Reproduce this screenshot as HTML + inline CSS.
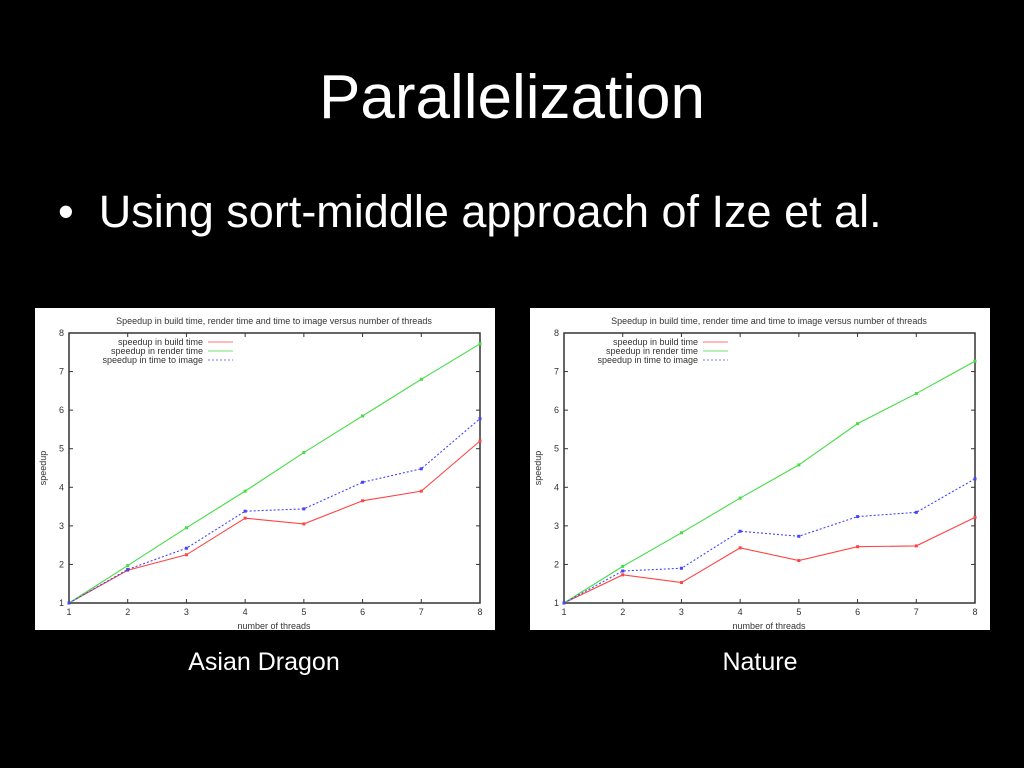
<!DOCTYPE html>
<html><head><meta charset="utf-8"><style>
body{margin:0;width:1024px;height:768px;background:#000;overflow:hidden;font-family:"Liberation Sans",sans-serif;color:#fff;position:relative}
#title{position:absolute;top:62px;left:0;width:1024px;text-align:center;font-size:62px}
#bullet{position:absolute;top:186px;left:58px;font-size:45px}
.chart{position:absolute;top:308px;width:460px;height:322px;background:#fff}
.cap{position:absolute;top:648px;font-size:25px;text-align:center;width:300px}
</style></head><body>
<div id="title">Parallelization</div>
<div id="bullet">•&nbsp; Using sort-middle approach of Ize et al.</div>
<svg class="chart" id="c1" style="left:35px"></svg>
<svg class="chart" id="c2" style="left:530px"></svg>
<div class="cap" style="left:114px">Asian Dragon</div>
<div class="cap" style="left:610px">Nature</div>
<script>
const threads=[1,2,3,4,5,6,7,8];
const yTicks=[1,2,3,4,5,6,7,8];
const dragonBuild=[1,1.85,2.25,3.2,3.05,3.65,3.9,5.2];
const dragonRender=[1,1.97,2.95,3.9,4.9,5.85,6.8,7.72];
const dragonImage=[1,1.87,2.42,3.38,3.44,4.13,4.48,5.78];
const natureBuild=[1,1.73,1.53,2.43,2.1,2.46,2.48,3.22];
const natureRender=[1,1.95,2.82,3.72,4.58,5.65,6.43,7.27];
const natureImage=[1,1.83,1.9,2.86,2.73,3.24,3.35,4.22];
const NS="http://www.w3.org/2000/svg";
function mk(svg,tag,attrs,txt){const e=document.createElementNS(NS,tag);for(const k in attrs)e.setAttribute(k,attrs[k]);if(txt!=null)e.textContent=txt;svg.appendChild(e);return e;}
function draw(id,series){
const svg=document.getElementById(id);
svg.setAttribute('viewBox','0 0 460 322');
const L=34,R=445,T=25,B=295;
const x=v=>L+(v-1)/7*(R-L), y=v=>B-(v-1)/7*(B-T);
let t=mk(svg,'text',{x:239,y:16,'font-size':9,'text-anchor':'middle',fill:'#333'},'Speedup in build time, render time and time to image versus number of threads');


yTicks.forEach(v=>{
 let l=mk(svg,'text',{x:L-5,y:y(v)+3,'font-size':9,'text-anchor':'end',fill:'#333'},v);
 
 
 mk(svg,'line',{x1:L,x2:L+4,y1:y(v),y2:y(v),stroke:'#333'});
 mk(svg,'line',{x1:R,x2:R-4,y1:y(v),y2:y(v),stroke:'#333'});
});
threads.forEach(v=>{
 let l=mk(svg,'text',{x:x(v),y:B+12,'font-size':9,'text-anchor':'middle',fill:'#333'},v);
 
 
 mk(svg,'line',{x1:x(v),x2:x(v),y1:B,y2:B-4,stroke:'#333'});
 mk(svg,'line',{x1:x(v),x2:x(v),y1:T,y2:T+4,stroke:'#333'});
});
let fr=mk(svg,'rect',{x:L,y:T,width:R-L,height:B-T,fill:'none',stroke:'#333','stroke-width':1.5});


let xt=mk(svg,'text',{x:239,y:321,'font-size':9,'text-anchor':'middle',fill:'#333'},'number of threads');


let yt=mk(svg,'text',{x:0,y:0,'font-size':9,'text-anchor':'middle',fill:'#333',transform:'translate(11,160) rotate(-90)'},'speedup');


const names=['speedup in build time','speedup in render time','speedup in time to image'];
const cols=['#f44','#4d4','#44f'];
const dash=['', '', '2,2'];
series.forEach((s,i)=>{
 const ly=34+i*9;
 let lt=mk(svg,'text',{x:168,y:ly+3,'font-size':9,'text-anchor':'end',fill:'#333'},names[i]);
 
 
 mk(svg,'line',{x1:173,x2:198,y1:ly,y2:ly,stroke:cols[i],'stroke-width':0.8,'stroke-dasharray':dash[i]});
 let pl=mk(svg,'polyline',{points:s.map((v,j)=>x(threads[j])+','+y(v)).join(' '),fill:'none',stroke:cols[i],'stroke-width':1.1,'stroke-dasharray':dash[i]});
 
 
 s.forEach((v,j)=>{
  let p=mk(svg,'rect',{x:x(threads[j])-1.5,y:y(v)-1.5,width:3,height:3,fill:cols[i]});
  
  
 });
});
}
draw('c1',[dragonBuild,dragonRender,dragonImage]);
draw('c2',[natureBuild,natureRender,natureImage]);
</script>
</body></html>
